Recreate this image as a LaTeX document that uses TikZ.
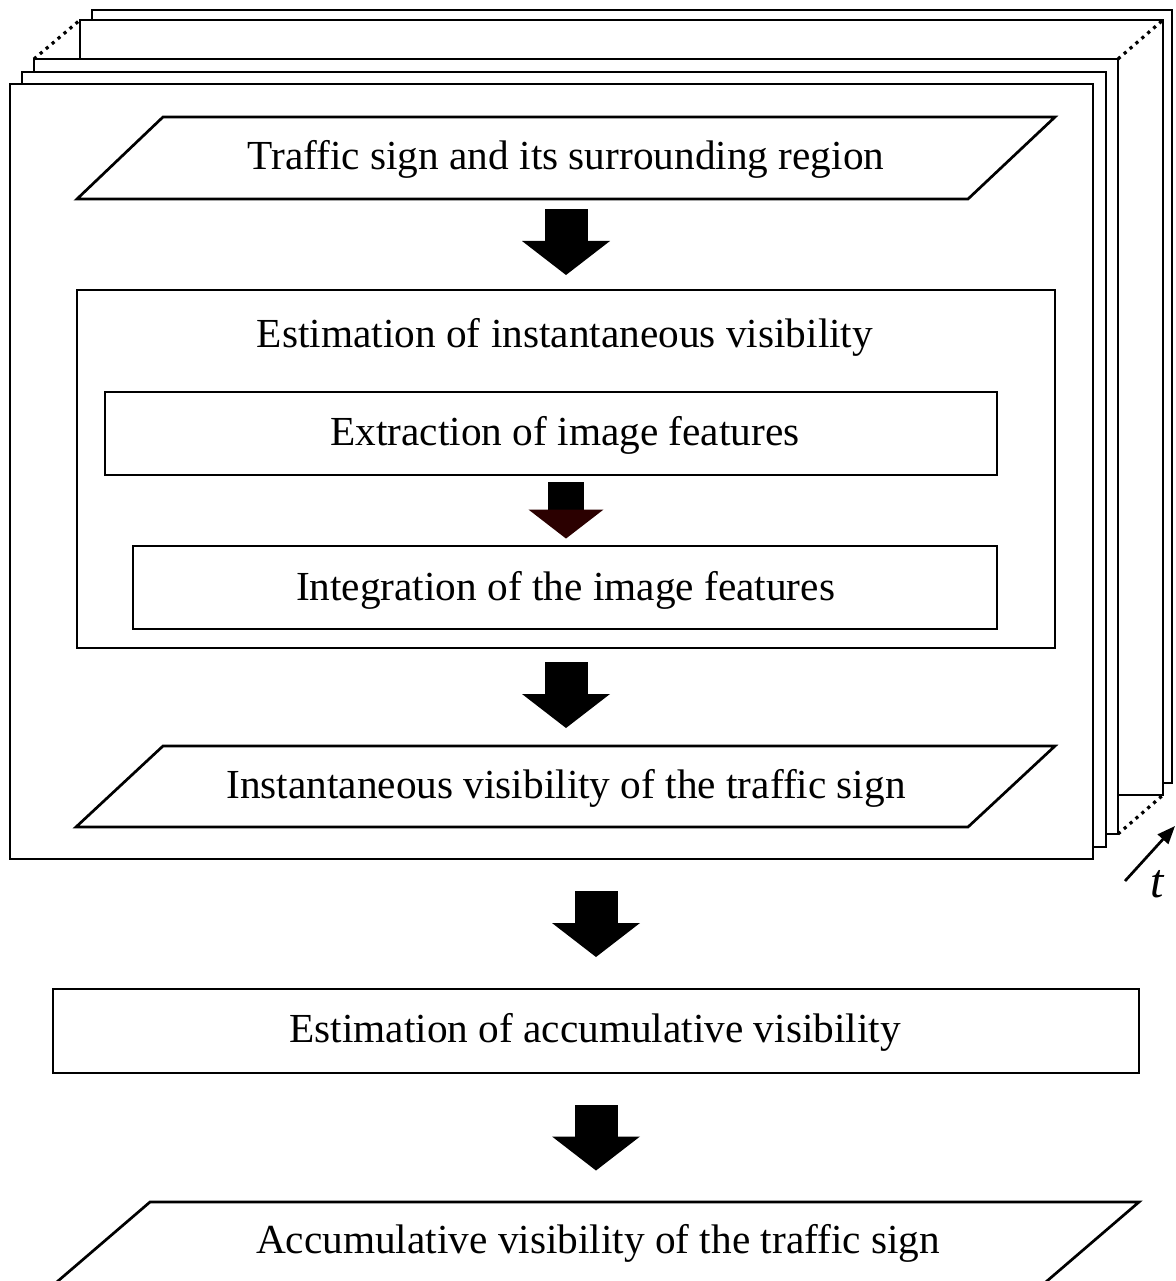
\documentclass[tikz,border=0pt]{standalone}
\usepackage{fontspec}
\setmainfont{Liberation Serif}
\usetikzlibrary{calc,arrows.meta}
\definecolor{headbrown}{HTML}{2B0000}
\begin{document}
\begin{tikzpicture}[x=1pt,y=-1pt,
  lw/.style={line width=2.7pt},
  frame/.style={draw,lw,fill=white,inner sep=0,outer sep=0,rectangle},
  boxnode/.style={draw,lw,inner sep=0,outer sep=0,rectangle},
  area/.style={inner sep=0,outer sep=0,rectangle},
  lbl/.style={anchor=base,inner sep=0,font=\fontsize{41.3pt}{50pt}\selectfont},
  dotline/.style={line width=3.2pt,dash pattern=on 3.2pt off 4.6pt},
  pics/blockarrow/.style={code={
     \fill[black] (-21.5,-33) rectangle (21.5,0);
     \fill[#1] (-44,-1) -- (44,-1) -- (0,33) -- cycle;}},
  pics/blockarrow/.default=black]
\useasboundingbox (0,0) rectangle (1175,1281);
\clip (0,0) rectangle (1175,1281);
% stacked frames (back to front)
\node[frame,minimum width=1080,minimum height=773] (F5) at (632,396.5) {};
\node[frame,minimum width=1083,minimum height=775] (F4) at (621.5,407.5) {};
\node[frame,minimum width=1084,minimum height=775] (F3) at (576,446.5) {};
\node[frame,minimum width=1084,minimum height=775] (F2) at (564,459.5) {};
\node[frame,minimum width=1083,minimum height=775] (F1) at (551.5,471.5) {};
\draw[dotline] (F3.north west) -- (F4.north west);
\draw[dotline] (F3.north east) -- (F4.north east);
\draw[dotline] (F3.south east) -- (F4.south east);
% top input
\node[area,minimum width=978,minimum height=82] (p1) at (566,158) {};
\draw[lw] ($(p1.north west)+(86,0)$) -- (p1.north east) -- ($(p1.south east)+(-87,0)$) -- (p1.south west) -- cycle;
\node[lbl] (tp1) at (566,170) {Traffic sign and its surrounding region};
% instantaneous estimation
\node[boxnode,minimum width=978,minimum height=358] (inst) at (566,469) {};
\node[lbl] (tinst) at (565,347) {Estimation of instantaneous visibility};
\node[boxnode,minimum width=892,minimum height=83] (extr) at (551,433.5) {};
\node[lbl] (textr) at (565,445) {Extraction of image features};
\node[boxnode,minimum width=864,minimum height=83] (integ) at (565,587.5) {};
\node[lbl] (tinteg) at (565.5,600) {Integration of the image features};
% instantaneous output
\node[area,minimum width=979,minimum height=81] (p2) at (565.5,786.5) {};
\draw[lw] ($(p2.north west)+(87,0)$) -- (p2.north east) -- ($(p2.south east)+(-87,0)$) -- (p2.south west) -- cycle;
\node[lbl] (tp2) at (566,798) {Instantaneous visibility of the traffic sign};
% accumulative
\node[boxnode,minimum width=1086,minimum height=84] (accum) at (596,1031) {};
\node[lbl] (taccum) at (595,1042) {Estimation of accumulative visibility};
\node[area,minimum width=1091.5,minimum height=88] (p3) at (593.25,1246) {};
\draw[lw] ($(p3.north west)+(102.5,0)$) -- (p3.north east) -- ($(p3.south east)+(-102.5,0)$) -- (p3.south west) -- cycle;
\node[lbl] (tp3) at (598,1253) {Accumulative visibility of the traffic sign};
% block arrows
\pic at ($($(p1.south)!0.5!(inst.north)$)+(0,-2.5)$) {blockarrow};
\pic[scale=0.85] at ($(extr.south -| inst.north)!0.5!(integ.north -| inst.north)$) {blockarrow=headbrown};
\pic at ($($(inst.south)!0.5!(p2.north -| inst.south)$)+(0,-2)$) {blockarrow};
\pic at ($(F1.south -| accum.north)!0.5!(accum.north)$) {blockarrow};
\pic at ($(accum.south)!0.5!(p3.north -| accum.south)$) {blockarrow};
% time axis
\coordinate (ttail) at (1125,881);
\coordinate (ttip) at (1175,826);
\draw[lw,-{Triangle[length=18pt,width=14pt]}] (ttail) -- (ttip);
\node[anchor=base,inner sep=0,font=\itshape\fontsize{48pt}{52pt}\selectfont] (tlbl) at (1157,897) {t};
\end{tikzpicture}
\end{document}
